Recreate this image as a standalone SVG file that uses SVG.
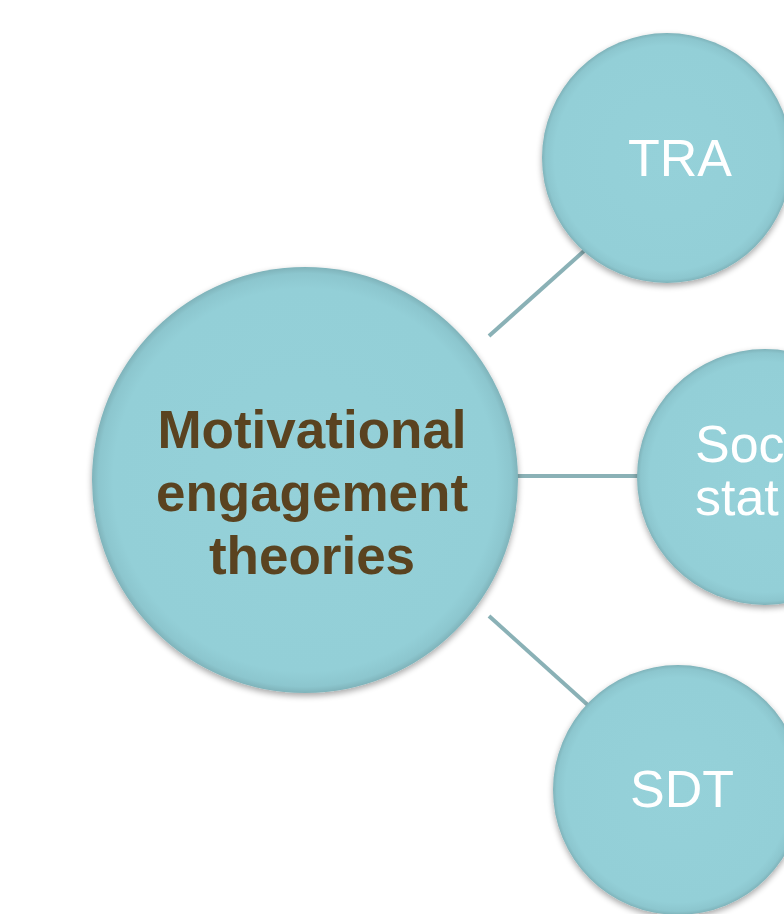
<svg xmlns="http://www.w3.org/2000/svg" width="784" height="914" viewBox="0 0 784 914">
  <defs>
    <radialGradient id="ball" cx="50%" cy="50%" r="50%">
      <stop offset="0" stop-color="#95d1d9"/>
      <stop offset="0.9" stop-color="#93cfd7"/>
      <stop offset="0.97" stop-color="#8cc6ce"/>
      <stop offset="1" stop-color="#7fb3ba"/>
    </radialGradient>
    <filter id="shadow" x="-20%" y="-20%" width="140%" height="140%">
      <feGaussianBlur in="SourceAlpha" stdDeviation="3"/>
      <feOffset dx="0" dy="3" result="b"/>
      <feComponentTransfer><feFuncA type="linear" slope="0.35"/></feComponentTransfer>
      <feMerge><feMergeNode/><feMergeNode in="SourceGraphic"/></feMerge>
    </filter>
    <style>
      .node { fill: url(#ball); filter: url(#shadow); }
      .link { stroke: #8ab1b6; stroke-width: 4; fill: none; }
      .hub { font-family: "Liberation Sans", Arial, sans-serif; font-weight: bold; font-size: 53px; fill: #5a4320; text-anchor: middle; }
      .leaf { font-family: "Liberation Sans", Arial, sans-serif; font-size: 52px; fill: #ffffff; }
    </style>
  </defs>
  <rect width="784" height="914" fill="#ffffff"/>

  <g id="connectors">
    <line class="link" x1="489" y1="336" x2="584" y2="251"/>
    <line class="link" x1="515" y1="476" x2="640" y2="476"/>
    <line class="link" x1="489" y1="616" x2="590" y2="707"/>
  </g>

  <g id="hub">
    <circle class="node" cx="305" cy="480" r="213"/>
    <text class="hub" x="312" y="448">Motivational</text>
    <text class="hub" x="312" y="511">engagement</text>
    <text class="hub" x="312" y="574">theories</text>
  </g>

  <g id="tra">
    <circle class="node" cx="667" cy="158" r="125"/>
    <text class="leaf" x="680" y="176" text-anchor="middle">TRA</text>
  </g>

  <g id="social">
    <circle class="node" cx="765" cy="477" r="128"/>
    <text class="leaf" x="695" y="462">Soc</text>
    <text class="leaf" x="695" y="515">stat</text>
  </g>

  <g id="sdt">
    <circle class="node" cx="678" cy="790" r="125"/>
    <text class="leaf" x="682" y="807" text-anchor="middle">SDT</text>
  </g>
</svg>
